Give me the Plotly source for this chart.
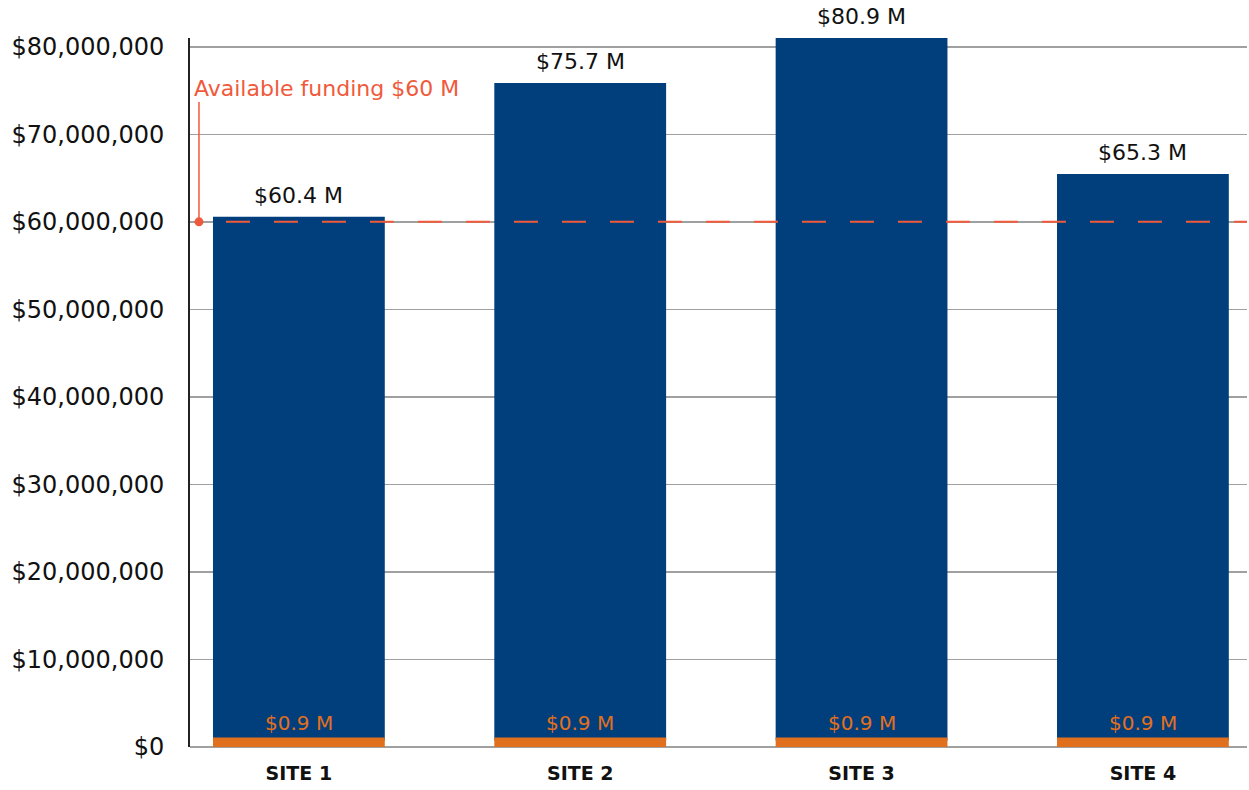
import plotly.graph_objects as go

sites = ["SITE 1", "SITE 2", "SITE 3", "SITE 4"]
totals = [60.4e6, 75.7e6, 80.9e6, 65.3e6]
base_costs = [0.9e6, 0.9e6, 0.9e6, 0.9e6]
total_labels = ["$60.4 M", "$75.7 M", "$80.9 M", "$65.3 M"]
base_labels = ["$0.9 M", "$0.9 M", "$0.9 M", "$0.9 M"]
funding = 60e6
funding_label = "Available funding $60 M"
y_ticks = [0, 10e6, 20e6, 30e6, 40e6, 50e6, 60e6, 70e6, 80e6]
y_ticktext = ["$0", "$10,000,000", "$20,000,000", "$30,000,000", "$40,000,000",
              "$50,000,000", "$60,000,000", "$70,000,000", "$80,000,000"]

upper = [t - b for t, b in zip(totals, base_costs)]

BLUE = "#013e7c"
ORANGE = "#e1701e"
RED = "#f05a3c"
FONT = "DejaVu Sans"

fig = go.Figure()
fig.add_trace(go.Bar(x=sites, y=upper, base=base_costs,
                     marker=dict(color=BLUE, line=dict(color=BLUE, width=3)),
                     width=0.6, hoverinfo="skip"))
fig.add_trace(go.Bar(x=sites, y=base_costs, marker=dict(color=ORANGE, line=dict(color=ORANGE, width=3)),
                     width=0.6, hoverinfo="skip"))

for s, t, lab in zip(sites, totals, total_labels):
    fig.add_annotation(x=s, y=t, text=lab, showarrow=False, yanchor="bottom", yshift=8,
                       font=dict(family=FONT, size=22, color="#111111"))
for s, b, lab in zip(sites, base_costs, base_labels):
    fig.add_annotation(x=s, y=b, text=lab, showarrow=False, yanchor="bottom", yshift=2,
                       font=dict(family=FONT, size=20, color=ORANGE))

# funding line
fig.add_shape(type="line", xref="paper", yref="y", x0=0.034, x1=1, y0=funding, y1=funding,
              line=dict(color=RED, width=2, dash="24px,24px"), layer="above")
fig.add_shape(type="line", xref="paper", yref="y", x0=0.0085, x1=0.0085, y0=funding, y1=73.7e6,
              line=dict(color=RED, width=1.5))
fig.add_trace(go.Scatter(x=[0.0085], y=[funding], xaxis="x2", mode="markers",
                         marker=dict(color=RED, size=9), cliponaxis=False, hoverinfo="skip"))
fig.add_annotation(xref="paper", yref="y", x=0.004, y=75.2e6, text=funding_label, showarrow=False,
                   xanchor="left", yanchor="middle", xshift=-2,
                   font=dict(family=FONT, size=22, color=RED))

fig.update_layout(
    width=1249, height=790,
    margin=dict(l=190, r=2, t=38, b=43, autoexpand=False),
    barmode="overlay", showlegend=False,
    plot_bgcolor="white", paper_bgcolor="white",
    font=dict(family=FONT, color="#111111"),
    xaxis=dict(range=[-0.387, 3.37], showgrid=False, showline=False, ticks="",
               tickvals=sites, ticktext=["<b>" + s + "</b>" for s in sites],
               tickfont=dict(family=FONT, size=19, color="#111"), tickangle=0,
               ticklabelstandoff=13, automargin=False),
    xaxis2=dict(range=[0, 1], overlaying="x", visible=False),
    yaxis=dict(range=[0, 81e6], tickvals=y_ticks, ticktext=y_ticktext,
               showgrid=True, gridcolor="#a0a0a0", gridwidth=1.5,
               showline=True, linecolor="#222", linewidth=2, zeroline=True, zerolinecolor="#a0a0a0",
               zerolinewidth=1.5, ticks="", ticklabelstandoff=19, automargin=False,
               tickfont=dict(family=FONT, size=24, color="#111111")),
)

fig.write_html("out.html", config={"displayModeBar": False, "staticPlot": True},
               post_script="document.body.style.margin='0';document.body.style.overflow='hidden';")
